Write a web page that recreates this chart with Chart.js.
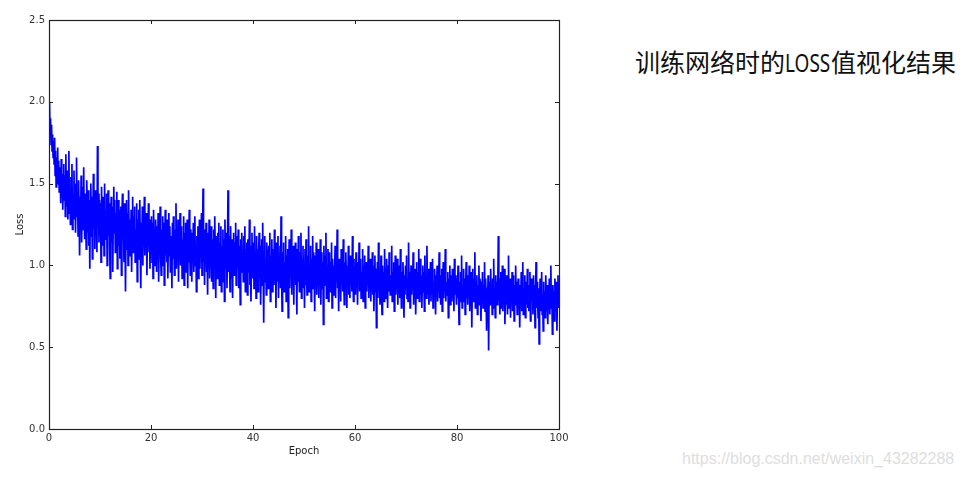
<!DOCTYPE html>
<html>
<head>
<meta charset="utf-8">
<script src="https://cdn.jsdelivr.net/npm/chart.js@4.4.1/dist/chart.umd.min.js"></script>
<style>
html,body{margin:0;padding:0;background:#fff;width:962px;height:478px;overflow:hidden;}
#wrap{position:absolute;left:0;top:0;width:600px;height:478px;}
#title{position:absolute;left:635px;top:44px;font-family:"Noto Sans CJK SC","Noto Sans",sans-serif;font-size:25px;line-height:34px;color:#111;white-space:nowrap;}
#title .latw{display:inline-block;width:46px;overflow:visible;vertical-align:top;}
#title .lat{display:inline-block;font-family:"Noto Sans",sans-serif;transform:scaleX(0.76);transform-origin:0 50%;}
#wm{position:absolute;left:682px;top:450px;font-family:"Liberation Sans",Arial,sans-serif;font-size:16px;color:#dedede;white-space:nowrap;}
</style>
</head>
<body>
<div id="wrap"><canvas id="c" width="600" height="478"></canvas></div>
<div id="title">训练网络时的<span class="latw"><span class="lat">LOSS</span></span>值视化结果</div>
<div id="wm">https://blog.csdn.net/weixin_43282288</div>
<script>
const xTicks = [0, 20, 40, 60, 80, 100];
const yTicks = [0.0, 0.5, 1.0, 1.5, 2.0, 2.5];
const loss = [
1.95,2.00,1.82,1.90,1.74,1.86,1.70,1.80,1.66,1.76,
1.62,1.78,1.55,1.70,1.48,1.66,1.58,1.72,1.50,1.64,
1.45,1.60,1.52,1.38,1.65,1.42,1.56,1.34,1.50,1.62,
1.40,1.55,1.30,1.68,1.44,1.36,1.58,1.28,1.48,1.70,
1.32,1.46,1.25,1.54,1.38,1.62,1.22,1.44,1.35,1.58,
1.28,1.50,1.20,1.40,1.66,1.30,1.45,1.18,1.52,1.34,
1.06,1.42,1.26,1.55,1.14,1.38,1.48,1.22,1.60,1.30,
1.16,1.44,1.28,1.10,1.52,1.36,1.20,1.46,1.12,1.40,
0.98,1.34,1.50,1.18,1.42,1.04,1.30,1.56,1.22,1.38,
1.10,1.46,1.24,1.36,1.08,1.73,1.28,1.44,1.14,1.40,
1.20,1.38,1.02,1.48,1.26,1.12,1.42,1.30,1.06,1.50,
1.16,1.34,1.24,1.44,1.00,1.32,1.46,1.18,1.38,1.10,
0.92,1.30,1.42,1.14,1.36,0.96,1.28,1.48,1.20,1.40,
1.08,1.32,1.22,1.45,0.98,1.26,1.40,1.12,1.34,1.04,
1.18,1.36,0.94,1.30,1.44,1.16,1.28,1.02,1.38,1.22,
0.84,1.24,1.40,1.10,1.32,1.00,1.46,1.20,1.28,1.06,
1.14,1.34,0.96,1.26,1.42,1.08,1.30,1.18,1.36,1.02,
1.22,1.10,1.38,0.90,1.28,1.16,1.34,1.04,1.40,1.12,
0.86,1.26,1.12,1.36,1.00,1.30,1.18,1.42,1.06,1.24,
1.14,1.32,0.94,1.22,1.08,1.38,1.16,1.28,0.98,1.20,
1.10,1.30,1.02,1.26,0.92,1.34,1.14,1.22,1.00,1.28,
1.18,0.96,1.24,1.08,1.32,0.90,1.20,1.12,1.36,1.04,
0.94,1.22,1.10,1.30,1.00,1.26,0.88,1.16,1.34,1.06,
1.20,1.02,1.28,0.92,1.14,1.32,1.06,1.24,0.96,1.18,
1.10,0.86,1.26,1.04,1.30,1.12,0.94,1.22,1.08,1.38,
0.98,1.18,1.06,1.28,0.90,1.20,1.12,1.32,1.00,1.14,
1.24,0.92,1.16,1.04,1.30,0.88,1.20,1.10,1.26,0.96,
1.12,1.28,0.86,1.18,1.02,1.34,1.08,0.94,1.22,1.14,
0.90,1.20,1.06,1.26,0.96,1.16,1.30,1.00,1.12,0.84,
1.18,1.04,1.24,0.92,1.14,1.28,0.98,1.20,1.08,1.32,
0.94,1.12,1.47,1.02,1.22,0.88,1.16,1.06,1.26,0.96,
1.10,0.82,1.20,1.04,1.28,0.92,1.14,1.00,1.24,0.90,
1.16,1.06,0.86,1.22,0.98,1.30,1.08,0.80,1.18,1.02,
0.92,1.20,1.10,1.26,0.88,1.14,1.00,1.24,0.84,1.12,
1.04,1.22,0.90,1.16,0.78,1.28,0.98,1.10,1.20,0.86,
1.14,1.46,0.96,1.18,1.02,0.84,1.24,1.06,0.92,1.16,
0.80,1.10,1.20,0.94,1.14,1.00,1.26,0.88,1.08,1.18,
0.98,1.22,0.86,1.12,1.04,0.76,1.16,0.96,1.20,1.02,
1.08,0.90,1.18,1.00,1.24,0.84,1.10,0.94,1.14,0.82,
1.16,0.96,1.06,1.28,0.88,1.12,0.78,1.04,1.20,0.92,
1.02,1.14,0.86,1.24,0.98,1.08,0.80,1.18,0.94,1.10,
0.84,1.06,1.20,0.92,1.12,0.76,1.02,1.16,0.88,1.26,
0.96,0.65,1.08,1.18,0.90,1.04,0.82,1.14,0.98,1.10,
0.86,1.12,0.94,1.20,0.78,1.06,0.92,1.16,0.84,1.02,
1.10,0.88,1.22,0.96,1.06,0.74,1.14,0.90,1.00,1.18,
0.80,1.04,0.92,1.12,0.86,1.30,0.98,0.72,1.08,0.94,
1.14,0.84,1.02,0.90,1.18,0.78,1.06,0.96,1.10,0.68,
1.00,1.16,0.86,1.08,0.94,1.22,0.82,1.04,0.92,1.12,
0.76,1.06,0.96,1.14,0.88,1.02,0.70,1.10,0.90,1.18,
0.98,0.84,1.08,0.92,1.20,0.80,1.04,0.94,1.12,0.86,
1.02,0.74,1.10,0.88,1.16,0.96,0.82,1.06,0.92,1.24,
0.84,1.00,0.94,1.12,0.78,1.04,0.90,1.18,0.86,1.08,
0.96,0.72,1.06,0.92,1.14,0.82,1.00,0.88,1.10,0.80,
1.04,0.90,1.16,0.76,0.98,1.08,0.86,1.02,0.64,1.12,
0.88,1.06,0.94,1.20,0.80,1.00,0.90,1.10,0.78,0.96,
1.08,0.84,1.02,0.92,1.14,0.74,1.04,0.88,1.00,0.82,
0.96,1.12,0.80,1.06,0.90,1.22,0.86,0.98,0.72,1.04,
0.88,1.00,0.78,1.10,0.94,1.04,0.84,1.16,0.90,0.76,
1.02,0.86,1.08,0.92,0.74,1.00,0.88,1.12,0.82,0.96,
0.80,1.06,0.90,1.00,0.84,1.18,0.92,0.78,1.04,0.86,
0.98,0.82,1.08,0.90,1.00,0.76,1.02,0.88,1.14,0.84,
0.94,1.04,0.80,0.96,0.86,1.10,0.78,1.00,0.90,1.06,
0.74,0.92,1.02,0.84,0.98,0.88,1.12,0.80,0.96,0.86,
1.04,0.78,0.94,0.86,1.08,0.82,1.00,0.72,0.92,1.06,
0.84,0.98,0.62,0.90,1.02,0.80,1.14,0.88,0.96,0.76,
0.92,1.06,0.84,0.70,1.00,0.88,0.96,0.78,1.10,0.86,
0.98,0.80,1.04,0.90,0.74,1.00,0.84,1.08,0.92,0.82,
0.94,0.86,1.12,0.78,0.96,0.88,1.02,0.72,0.90,1.06,
0.82,0.98,0.88,1.04,0.76,0.94,0.86,1.00,0.80,1.10,
0.90,0.74,0.96,0.84,1.02,0.88,0.68,0.94,0.82,1.00,
0.86,1.06,0.80,0.92,0.78,1.14,0.88,0.96,0.74,0.90,
1.00,0.82,0.94,0.86,1.08,0.76,0.92,0.84,0.98,0.70,
0.88,1.02,0.80,0.96,0.86,1.10,0.78,0.90,1.04,0.82,
0.94,0.74,0.88,1.00,0.84,0.96,0.72,1.06,0.86,0.92,
0.80,1.12,0.90,0.82,0.98,0.76,0.92,0.86,1.02,0.78,
0.96,0.84,1.04,0.74,0.90,0.82,0.98,0.88,0.70,0.94,
0.86,1.00,0.78,0.92,0.84,1.08,0.80,0.94,0.76,0.90,
0.98,0.72,0.88,1.02,0.80,0.92,0.84,1.10,0.78,0.86,
0.90,0.82,0.96,0.68,0.92,0.86,1.00,0.76,0.88,0.94,
0.78,0.98,0.84,0.90,0.72,1.04,0.82,0.94,0.86,0.76,
0.92,0.80,1.00,0.86,0.64,0.90,0.78,0.96,0.84,1.06,
0.74,0.88,0.82,0.98,0.78,0.92,0.70,0.86,1.02,0.80,
0.90,0.76,0.94,0.84,1.00,0.72,0.88,0.80,0.96,0.62,
0.86,0.98,0.78,0.92,0.84,1.08,0.74,0.90,0.82,0.94,
0.70,0.88,0.80,1.00,0.76,0.92,0.86,0.66,0.90,0.82,
0.96,0.74,0.88,0.80,1.02,0.72,0.92,0.84,0.60,0.86,
0.78,0.94,0.48,0.84,0.90,0.76,0.98,0.82,0.88,0.70,
0.92,0.80,1.04,0.74,0.86,0.68,0.94,0.80,0.90,0.76,
0.88,1.18,0.78,0.92,0.70,0.86,0.96,0.74,0.84,1.00,
0.72,0.90,0.80,0.98,0.64,0.88,0.76,0.94,0.82,0.70,
0.86,1.06,0.74,0.84,0.92,0.68,0.90,0.78,0.96,0.72,
0.82,0.94,0.66,0.88,0.76,1.00,0.80,0.90,0.70,0.86,
0.92,0.74,0.84,0.62,0.88,0.78,0.96,0.72,0.86,1.02,
0.70,0.86,0.80,0.94,0.68,0.82,0.90,0.76,0.98,0.74,
0.88,0.72,0.84,0.96,0.66,0.82,0.92,0.78,0.86,0.70,
0.94,0.76,0.88,0.62,0.84,1.02,0.74,0.90,0.80,0.68,
0.86,0.52,0.78,0.92,0.72,0.84,0.96,0.70,0.82,0.60,
0.90,0.76,0.84,0.68,0.94,0.80,0.72,0.88,0.64,0.86,
0.78,0.92,0.70,0.84,1.00,0.74,0.82,0.58,0.88,0.76,
0.84,0.66,0.92,0.80,0.72,0.90,0.60,0.86,0.94,0.74,
0.82
];
const epochs = loss.map((_, i) => i * 100 / (loss.length - 1));
const points = loss.map((v, i) => ({x: epochs[i], y: v}));

const framePlugin = {
  id: 'frame',
  afterDatasetsDraw(chart) {
    const {ctx, chartArea: a, scales} = chart;
    ctx.save();
    ctx.strokeStyle = '#222';
    ctx.lineWidth = 1;
    ctx.beginPath();
    xTicks.forEach(t => {
      const px = Math.round(scales.x.getPixelForValue(t)) + 0.5;
      ctx.moveTo(px, a.bottom); ctx.lineTo(px, a.bottom - 4);
      ctx.moveTo(px, a.top); ctx.lineTo(px, a.top + 4);
    });
    yTicks.forEach(t => {
      const py = Math.round(scales.y.getPixelForValue(t)) + 0.5;
      ctx.moveTo(a.left, py); ctx.lineTo(a.left + 4, py);
      ctx.moveTo(a.right, py); ctx.lineTo(a.right - 4, py);
    });
    ctx.stroke();
    ctx.lineWidth = 1.2;
    ctx.strokeRect(Math.round(a.left) + 0.5, Math.round(a.top) + 0.5, Math.round(a.right - a.left), Math.round(a.bottom - a.top));
    ctx.restore();
  }
};

const tickFont = {family: 'DejaVu Sans', size: 10};
new Chart(document.getElementById('c'), {
  type: 'line',
  data: {datasets: [{data: points, borderColor: '#0000ff', borderWidth: 1.7, pointRadius: 0, tension: 0, fill: false}]},
  options: {
    responsive: false,
    animation: false,
    parsing: false,
    normalized: true,
    layout: {padding: {left: 0, top: 20, right: 41, bottom: 0}},
    plugins: {legend: {display: false}, tooltip: {enabled: false}},
    scales: {
      x: {
        type: 'linear', min: 0, max: 100,
        afterBuildTicks: s => { s.ticks = xTicks.map(v => ({value: v})); },
        afterFit: s => { s.height = 49; },
        grid: {display: false, drawTicks: false},
        border: {display: false},
        ticks: {color: '#333', font: tickFont, padding: 3, maxRotation: 0},
        title: {display: true, text: 'Epoch', color: '#222', font: {family: 'DejaVu Sans', size: 10}, padding: {top: 0, bottom: 21}}
      },
      y: {
        type: 'linear', min: 0, max: 2.5,
        afterBuildTicks: s => { s.ticks = yTicks.map(v => ({value: v})); },
        afterFit: s => { s.width = 49; },
        grid: {display: false, drawTicks: false},
        border: {display: false},
        ticks: {color: '#333', font: tickFont, padding: 4, callback: v => Number(v).toFixed(1)},
        title: {display: true, text: 'Loss', color: '#222', font: {family: 'DejaVu Sans', size: 10}, padding: {top: 14, bottom: 0}}
      }
    }
  },
  plugins: [framePlugin]
});
</script>
</body>
</html>
